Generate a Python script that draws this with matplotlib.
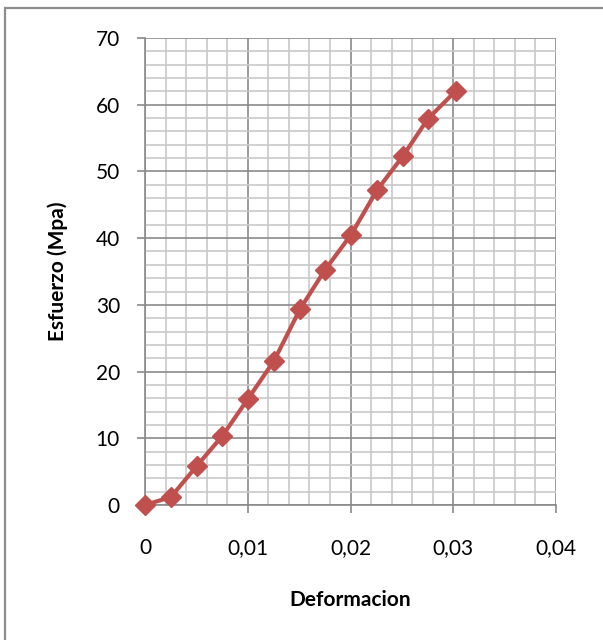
import numpy as np
import matplotlib
matplotlib.use('Agg')
import matplotlib.pyplot as plt
from matplotlib.patches import Rectangle

plt.rcParams['font.family'] = ['Lato', 'DejaVu Sans']

# datos
deformacion = [0, 0.00253, 0.00506, 0.0075, 0.01002, 0.01255, 0.0151,
               0.0175, 0.02005, 0.02258, 0.0251, 0.02754, 0.03027]
esfuerzo = [0, 1.2, 5.9, 10.3, 15.9, 21.6, 29.4,
            35.2, 40.5, 47.2, 52.3, 57.9, 62.1]

xticks = [0, 0.01, 0.02, 0.03, 0.04]
xlabels = ['0', '0,01', '0,02', '0,03', '0,04']
yticks = [0, 10, 20, 30, 40, 50, 60, 70]

fig = plt.figure(figsize=(6.03, 6.4), dpi=100)
ax = fig.add_axes([145/603, 135/640, 411/603, 467/640])

# marco exterior tipo excel
fig.patches.append(Rectangle((5/603, -0.1), 1.2, (640-8)/640 + 0.1,
                             transform=fig.transFigure, fill=False,
                             edgecolor='#8c8c8c', lw=1.6))

ax.plot(deformacion, esfuerzo, color='#C0504D', lw=3, marker='D',
        markersize=10, markeredgecolor='#C0504D', zorder=3, clip_on=False)

ax.set_xlim(0, 0.04)
ax.set_ylim(0, 70)
ax.set_xticks(xticks)
ax.set_xticklabels(xlabels)
ax.set_yticks(yticks)
ax.set_xticks(np.arange(0, 0.0401, 0.002), minor=True)
ax.set_yticks(np.arange(0, 70.1, 2), minor=True)

ax.grid(which='minor', color='#c8c8c8', lw=1.2)
ax.grid(which='major', color='#8a8a8a', lw=1.2)
ax.set_axisbelow(True)

for s in ['top', 'right']:
    ax.spines[s].set_visible(False)
for s in ['left', 'bottom']:
    ax.spines[s].set_color('#8a8a8a')
    ax.spines[s].set_linewidth(1.2)

ax.tick_params(which='major', direction='out', length=6, width=1.2,
               color='#8a8a8a', labelsize=15)
ax.tick_params(which='minor', length=0)
ax.tick_params(axis='y', pad=12)
ax.tick_params(axis='x', pad=18)

ax.set_xlabel('Deformacion', fontsize=15, fontweight='bold', labelpad=23)
ax.set_ylabel('Esfuerzo (Mpa)', fontsize=15, fontweight='bold', labelpad=20)

fig.savefig('out.png', dpi=100)
